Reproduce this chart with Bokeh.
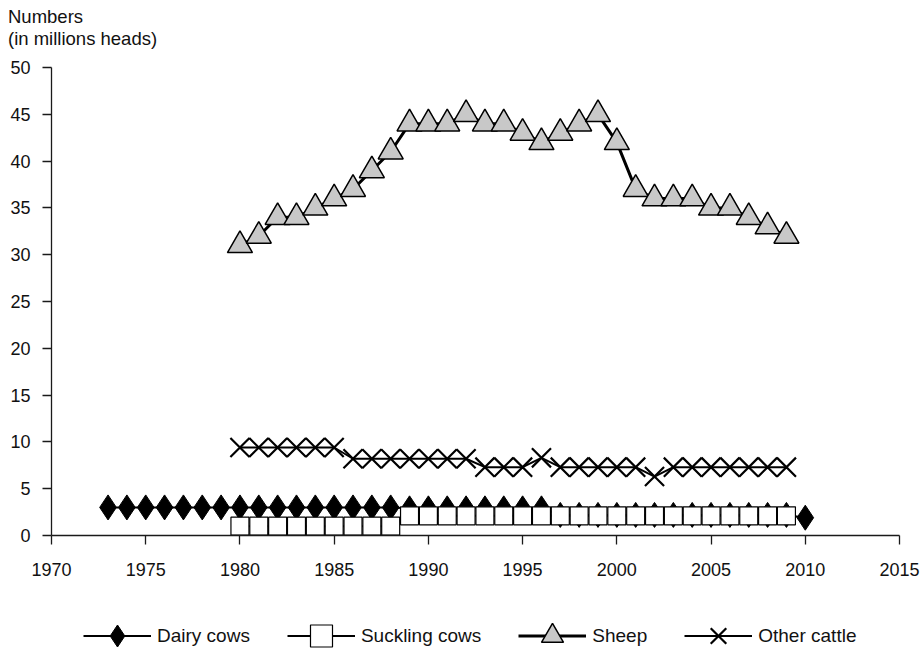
from bokeh.plotting import figure
from bokeh.layouts import column
from bokeh.models import Range1d, FixedTicker, Legend, LegendItem, Label
from bokeh.embed import file_html
from bokeh.resources import INLINE

# ---- data ----
x_ticks = [1970, 1975, 1980, 1985, 1990, 1995, 2000, 2005, 2010, 2015]
y_ticks = [0, 5, 10, 15, 20, 25, 30, 35, 40, 45, 50]

dairy_years = list(range(1973, 2011))
dairy = [3.0, 3.0, 3.0, 3.0, 3.0, 3.0, 3.0, 3.0, 3.0, 3.0, 3.0, 3.0, 3.0, 3.0, 3.0, 3.0,
         2.9, 2.9, 2.9, 2.9, 2.9, 2.9, 2.9, 2.9,
         2.2, 2.2, 2.2, 2.2, 2.2, 2.2, 2.2, 2.2, 2.2, 2.2, 2.2, 2.2, 2.2,
         1.9]

suckling_years = list(range(1980, 2010))
suckling = [1.0, 1.0, 1.0, 1.0, 1.0, 1.0, 1.0, 1.0, 1.0,
            2.1, 2.1, 2.1, 2.1, 2.1, 2.1, 2.1, 2.1, 2.1, 2.1, 2.1,
            2.1, 2.1, 2.1, 2.1, 2.1, 2.1, 2.1, 2.1, 2.1, 2.1]

sheep_years = list(range(1980, 2010))
sheep = [31, 32, 34, 34, 35, 36, 37, 39, 41, 44, 44, 44, 45, 44, 44,
         43, 42, 43, 44, 45, 42, 37, 36, 36, 36, 35, 35, 34, 33, 32]

cattle_years = list(range(1980, 2010))
cattle = [9.4, 9.4, 9.4, 9.4, 9.4, 9.4,
          8.2, 8.2, 8.2, 8.2, 8.2, 8.2, 8.2,
          7.3, 7.3, 7.3, 8.3, 7.3, 7.3, 7.3, 7.3, 7.3, 6.3,
          7.3, 7.3, 7.3, 7.3, 7.3, 7.3, 7.3]

series_names = ["Dairy cows", "Suckling cows", "Sheep", "Other cattle"]
y_title_lines = ["Numbers", "(in millions heads)"]

FONT = "Liberation Sans"
W = 922

STYLES = [
    dict(line=dict(line_color="black", line_width=2),
         marker=dict(marker="diamond", size=25, fill_color="black", line_color="black", line_width=1)),
    dict(line=dict(line_color="black", line_width=2),
         marker=dict(marker="square", size=18, fill_color="white", line_color="black", line_width=1.2)),
    dict(line=dict(line_color="black", line_width=3),
         marker=dict(marker="triangle", size=25, fill_color="#c8c8c8", line_color="black", line_width=1.5)),
    dict(line=dict(line_color="black", line_width=2),
         marker=dict(marker="x", size=27, line_color="black", line_width=2.2)),
]
all_series = [(dairy_years, dairy), (suckling_years, suckling),
              (sheep_years, sheep), (cattle_years, cattle)]


def bare(fig):
    fig.xgrid.visible = False
    fig.ygrid.visible = False
    fig.outline_line_color = None
    fig.background_fill_color = "white"
    fig.border_fill_color = "white"
    fig.frame_align = False


# ---- title strip (pixel coordinates, y downward) ----
top = figure(width=W, height=57, output_backend="svg", toolbar_location=None,
             x_range=Range1d(0, W), y_range=Range1d(57, 0), title=None,
             x_axis_location=None, y_axis_location=None,
             min_border_left=0, min_border_right=0, min_border_top=0, min_border_bottom=0)
bare(top)
for txt, yb in zip(y_title_lines, [16, 37.5]):
    top.add_layout(Label(x=7.5, y=yb, text=txt, text_font=FONT, text_font_size="18.5px",
                         text_color="#111111", text_baseline="alphabetic", text_align="left"))

# ---- main chart ----
p = figure(width=W, height=533, output_backend="svg", toolbar_location=None,
           x_range=Range1d(1970, 2015), y_range=Range1d(0, 50), title=None,
           min_border_left=51, min_border_right=23, min_border_top=10,
           min_border_bottom=55)
bare(p)
for ax in [p.xaxis[0], p.yaxis[0]]:
    ax.major_tick_out = 9
    ax.major_tick_in = 0
    ax.minor_tick_out = 0
    ax.minor_tick_in = 0
    ax.axis_line_color = "#1a1a1a"
    ax.axis_line_width = 1.3
    ax.major_tick_line_color = "#1a1a1a"
    ax.major_tick_line_width = 1.3
    ax.major_label_text_font = FONT
    ax.major_label_text_font_size = "18px"
    ax.major_label_text_color = "#111111"
p.xaxis.ticker = FixedTicker(ticks=x_ticks)
p.yaxis.ticker = FixedTicker(ticks=y_ticks)
p.xaxis.major_label_standoff = 18
p.yaxis.major_label_standoff = 12

for (xs, ys), st in zip(all_series, STYLES):
    p.line(xs, ys, **st["line"])
    p.scatter(xs, ys, **st["marker"])

# ---- legend strip (series drawn out of view; only the legend shows) ----
q = figure(width=W, height=64, output_backend="svg", toolbar_location=None,
           x_range=Range1d(0, 1), y_range=Range1d(0, 1), title=None,
           x_axis_location=None, y_axis_location=None,
           min_border_left=0, min_border_right=0, min_border_top=0, min_border_bottom=0)
bare(q)
items = []
for name, (xs, ys), st in zip(series_names, all_series, STYLES):
    lr = q.line(xs, ys, **st["line"])
    mr = q.scatter(xs, ys, **st["marker"])
    items.append(LegendItem(label=name, renderers=[lr, mr]))

legend = Legend(items=items, orientation="horizontal", location=(83, -9))
legend.glyph_width = 68
legend.glyph_height = 55
legend.label_standoff = 6
legend.spacing = 37
legend.padding = 0
legend.margin = 0
legend.border_line_color = None
legend.background_fill_alpha = 0
legend.label_text_font = FONT
legend.label_text_font_size = "19px"
legend.label_text_color = "#111111"
q.add_layout(legend)

open("out.html", "w").write(file_html(column(top, p, q, spacing=0), INLINE))
